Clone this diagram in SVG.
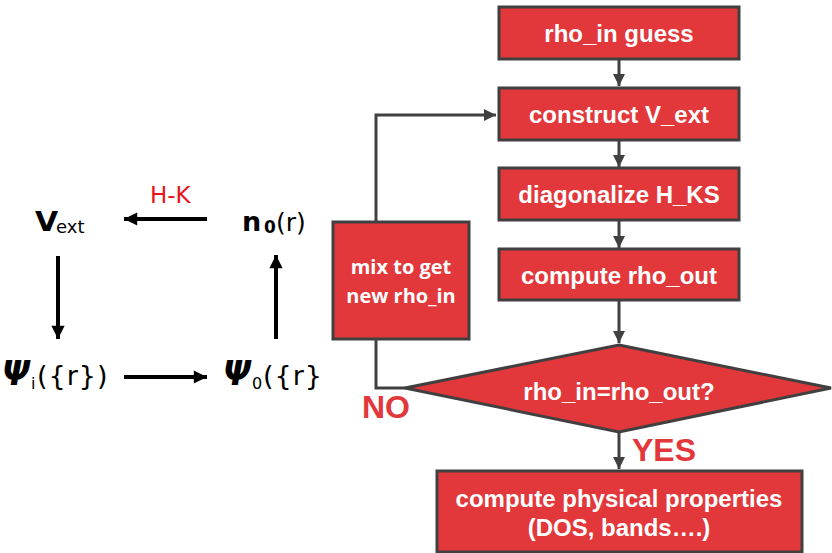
<svg xmlns="http://www.w3.org/2000/svg" width="832" height="553" viewBox="0 0 832 553">
<style>
.box{fill:#e2373b;stroke:#404040;stroke-width:3}
.bt{font-family:"Liberation Sans",Arial,sans-serif;font-weight:bold;font-size:24px;fill:#fff;text-anchor:middle}
.mt{font-family:"Open Sans","Liberation Sans",sans-serif;font-weight:bold;font-size:20px;fill:#fff;text-anchor:middle}
.lbl{font-family:"Liberation Sans",Arial,sans-serif;font-weight:bold;font-size:32px;fill:#e2373b}
.con{fill:none;stroke:#404040;stroke-width:3}
.blk{fill:none;stroke:#000;stroke-width:4}
.dj{font-family:"DejaVu Sans",sans-serif;fill:#000}
</style>
<defs>
<marker id="ga" viewBox="0 0 10 10" refX="10" refY="5" markerWidth="4" markerHeight="4" markerUnits="strokeWidth" orient="auto">
<path d="M0,0 L10,5 L0,10 z" fill="#404040"/>
</marker>
<marker id="ba" viewBox="0 0 10 10" refX="10" refY="5" markerWidth="3.6" markerHeight="3.3" markerUnits="strokeWidth" orient="auto">
<path d="M0,0 L10,5 L0,10 z" fill="#000"/>
</marker>
</defs>

<g id="left-cycle">
<g id="vext"><text class="dj" transform="translate(35,231) scale(1.15,1)" font-size="26" font-weight="bold">V</text><text class="dj" x="56" y="233" font-size="18">ext</text></g>
<g id="n0"><text class="dj" x="242" y="231" font-size="27" font-weight="bold">n</text><text class="dj" x="264" y="233" font-size="17" font-weight="bold">0</text><text class="dj" x="276" y="231" font-size="25">(r)</text></g>
<g id="psii"><text class="dj" x="2" y="385" font-size="33" font-weight="bold" font-style="italic">Ψ</text><text class="dj" x="31" y="389" font-size="16">i</text><text class="dj" x="37" y="385" font-size="27" letter-spacing="1">({r})</text></g>
<g id="psi0"><text class="dj" x="223" y="385" font-size="33" font-weight="bold" font-style="italic">Ψ</text><text class="dj" x="252" y="389" font-size="16">0</text><text class="dj" x="263" y="385" font-size="27" letter-spacing="1">({r}</text></g>
<text id="hk" x="150" y="203" font-family="'DejaVu Sans',sans-serif" font-size="23" fill="#e8141c">H-K</text>
<g id="left-arrows">
<line class="blk" x1="207" y1="219" x2="124" y2="219" marker-end="url(#ba)"/>
<line class="blk" x1="58" y1="256" x2="58" y2="339" marker-end="url(#ba)"/>
<line class="blk" x1="124" y1="377" x2="207" y2="377" marker-end="url(#ba)"/>
<line class="blk" x1="276" y1="339" x2="276" y2="255" marker-end="url(#ba)"/>
</g>
</g>

<g id="connectors">
<line class="con" x1="619" y1="59" x2="619" y2="86" marker-end="url(#ga)"/>
<line class="con" x1="619" y1="140" x2="619" y2="167" marker-end="url(#ga)"/>
<line class="con" x1="619" y1="220" x2="619" y2="248" marker-end="url(#ga)"/>
<line class="con" x1="619" y1="300" x2="619" y2="343" marker-end="url(#ga)"/>
<line class="con" x1="619" y1="432" x2="619" y2="469" marker-end="url(#ga)"/>
<polyline class="con" points="376,221 376,115 496,115" marker-end="url(#ga)"/>
<polyline class="con" points="376,339 376,388 406,388"/>
</g>

<g id="n-guess"><rect class="box" x="499" y="7" width="240" height="52"/><text class="bt" x="619" y="42">rho_in guess</text></g>
<g id="n-construct"><rect class="box" x="499" y="88" width="240" height="52"/><text class="bt" x="619" y="123">construct V_ext</text></g>
<g id="n-diag"><rect class="box" x="499" y="168" width="240" height="52"/><text class="bt" x="619" y="203">diagonalize H_KS</text></g>
<g id="n-rhoout"><rect class="box" x="499" y="249" width="240" height="51"/><text class="bt" x="619" y="284">compute rho_out</text></g>
<g id="n-mix"><rect class="box" x="333" y="222" width="136" height="117"/><text class="mt" x="401" y="274">mix to get</text><text class="mt" x="401" y="303">new rho_in</text></g>
<g id="n-check"><polygon class="box" points="619,345 831,388 619,432 405,388"/><text class="bt" x="619" y="400">rho_in=rho_out?</text></g>
<g id="n-props"><rect class="box" x="437" y="471" width="365" height="81"/><text class="bt" x="619" y="507">compute physical properties</text><text class="bt" x="619" y="536">(DOS, bands….)</text></g>
<text class="lbl" x="362" y="418">NO</text>
<text class="lbl" x="632" y="461">YES</text>
</svg>
